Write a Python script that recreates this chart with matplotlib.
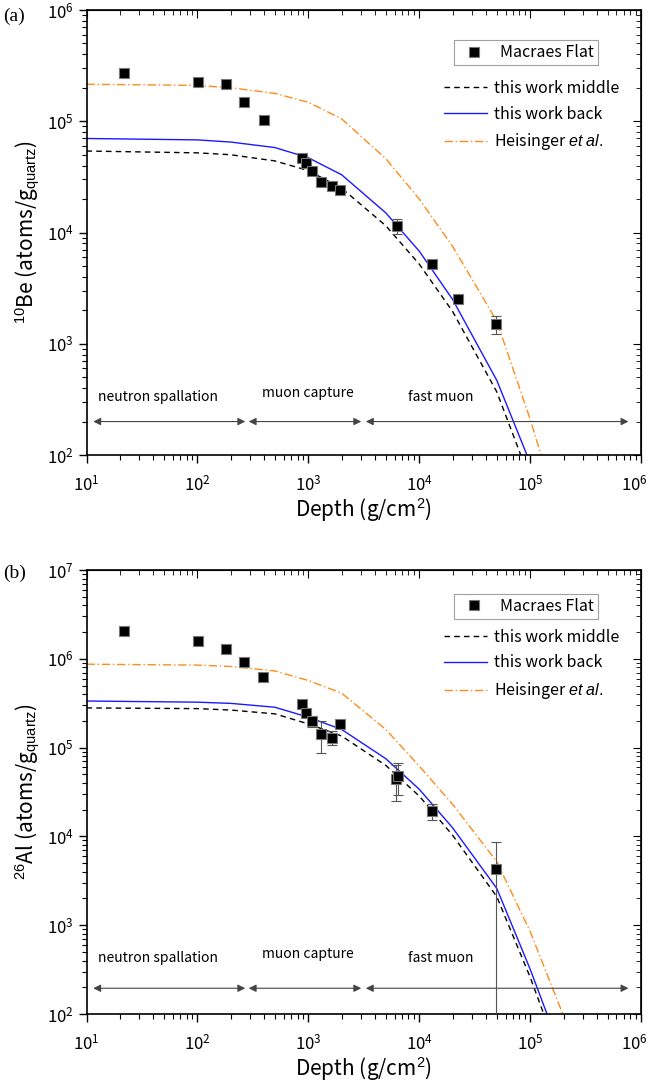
import numpy as np
import matplotlib
matplotlib.use("Agg")
import matplotlib.pyplot as plt
from matplotlib.lines import Line2D
import matplotlib.transforms as mtransforms

plt.rcParams['font.family'] = ['Noto Sans CJK JP', 'DejaVu Sans']
plt.rcParams['mathtext.fontset'] = 'custom'
plt.rcParams['mathtext.rm'] = 'Liberation Sans'
plt.rcParams['mathtext.it'] = 'Liberation Sans:italic'
plt.rcParams['mathtext.bf'] = 'Liberation Sans:bold'

# measured data, Macraes Flat
be_depth = [22, 102, 182, 265, 400, 883, 960, 1090, 1310, 1645, 1950, 6300, 13100, 22400, 49000]
be_conc = [2.72e5, 2.25e5, 2.16e5, 1.49e5, 1.03e5, 4.7e4, 4.2e4, 3.6e4, 2.85e4, 2.6e4, 2.4e4,
           1.14e4, 5.2e3, 2.5e3, 1.5e3]
be_err = [5e3, 5e3, 5e3, 4e3, 3e3, 1.5e3, 1.5e3, 1e3, 1e3, 1e3, 1e3, 1.7e3, 2e2, 1e2, 2.8e2]

al_depth = [22, 102, 182, 265, 390, 880, 960, 1090, 1310, 1645, 1950, 6200, 6500, 13100, 49000]
al_conc = [2.05e6, 1.6e6, 1.29e6, 9.2e5, 6.3e5, 3.1e5, 2.45e5, 2.0e5, 1.42e5, 1.3e5, 1.85e5,
           4.4e4, 4.8e4, 1.93e4, 4.3e3]
al_err = [3e4, 3e4, 2e4, 2e4, 1e4, 1e4, 1e4, 3e4, 5.5e4, 2.4e4, 5e3, 1.9e4, 1.9e4, 4e3, 4.3e3]

# model curves
model_depth = [10, 100, 200, 500, 1000, 2000, 5000, 10000, 20000, 50000, 100000, 200000]
be_middle = [5.4e4, 5.2e4, 5.0e4, 4.4e4, 3.6e4, 2.5e4, 1.15e4, 5.2e3, 1.95e3, 3.7e2, 6.0e1, 7]
be_back = [7.0e4, 6.8e4, 6.5e4, 5.8e4, 4.7e4, 3.3e4, 1.5e4, 6.8e3, 2.5e3, 4.7e2, 8.5e1, 9]
be_heis = [2.15e5, 2.1e5, 2.0e5, 1.78e5, 1.48e5, 1.05e5, 4.6e4, 2.0e4, 7.5e3, 1.6e3, 2.1e2, 2.2e1]

al_middle = [2.8e5, 2.75e5, 2.65e5, 2.4e5, 1.85e5, 1.35e5, 6.3e4, 2.85e4, 1.03e4, 2.1e3, 2.6e2, 2.5e1]
al_back = [3.35e5, 3.25e5, 3.15e5, 2.85e5, 2.2e5, 1.6e5, 7.5e4, 3.4e4, 1.25e4, 2.6e3, 3.2e2, 3.2e1]
al_heis = [8.7e5, 8.5e5, 8.2e5, 7.3e5, 5.7e5, 4.1e5, 1.6e5, 6.2e4, 2.3e4, 5.2e3, 8.5e2, 9.5e1]

# production zones
zone_names = ['neutron spallation', 'muon capture', 'fast muon']
zone_start = [11.5, 290, 3300]
zone_end = [270, 3000, 7.7e5]
zone_text_x = [12.7, 380, 7900]

fig = plt.figure(figsize=(6.52, 10.86), dpi=100)
ax1 = fig.add_axes([0.1327, 0.581, 0.8505, 0.4098])
ax2 = fig.add_axes([0.1327, 0.0663, 0.8505, 0.4088])


def draw(ax, depth, conc, err, middle, back, heis, ylim, ylabel, arrow_y, text_y, leg1_y, leg2_y):
    ax.set_xscale('log')
    ax.set_yscale('log')
    l1, = ax.plot(model_depth, middle, ls=(0, (4, 3)), color='black', lw=1)
    l2, = ax.plot(model_depth, back, ls='-', color='#1a1aff', lw=1)
    l3, = ax.plot(model_depth, heis, ls=(0, (6, 2, 1, 2)), color='#ff8c1a', lw=1)
    ax.errorbar(depth, conc, yerr=err, fmt='s', color='black', ms=7.5, mec='#777777',
                mew=0.8, ecolor='#555555', elinewidth=0.8, capsize=3.5, capthick=0.8, zorder=5)
    for name, x0, x1, tx, ty in zip(zone_names, zone_start, zone_end, zone_text_x, text_y):
        ax.annotate('', xy=(x1, arrow_y), xytext=(x0, arrow_y),
                    arrowprops=dict(arrowstyle='<|-|>', color='#444444', lw=0.8,
                                    mutation_scale=11, shrinkA=0, shrinkB=0))
        ax.text(tx, ty, name, fontsize=10, va='center', ha='left')
    ax.set_xlim(10, 1e6)
    ax.set_ylim(*ylim)
    ax.set_xlabel('Depth (g/cm$^{2}$)', fontsize=15, labelpad=1)
    ax.set_ylabel(ylabel, fontsize=15, labelpad=3)
    ax.tick_params(which='both', direction='out', top=False, right=False, labelsize=12)
    ax.tick_params(which='major', length=6, width=1)
    ax.tick_params(which='minor', length=3.5, width=0.8)
    ax.tick_params(axis='x', pad=8)
    for s in ax.spines.values():
        s.set_linewidth(1.2)
    sec = ax.secondary_xaxis('top')
    sec.tick_params(which='both', direction='in', labeltop=False)
    sec.tick_params(which='major', length=6)
    sec.tick_params(which='minor', length=3.5)
    secy = ax.secondary_yaxis('right')
    secy.tick_params(which='both', direction='in', labelright=False)
    secy.tick_params(which='major', length=6)
    secy.tick_params(which='minor', length=3.5)

    mark = Line2D([], [], ls='none', marker='s', color='black', ms=7.5, mec='#777777', mew=0.8)
    leg1 = ax.legend([mark], ['Macraes Flat'], loc='upper left', bbox_to_anchor=(0.663, leg1_y),
                     frameon=True, fancybox=False, edgecolor='#888888', fontsize=11.5,
                     handlelength=2.0, handletextpad=0.6, borderpad=0.25, borderaxespad=0)
    leg1.get_frame().set_linewidth(0.8)
    ax.add_artist(leg1)
    ax.legend([l1, l2, l3], ['this work middle', 'this work back', r'Heisinger $\it{et\ al.}$'],
              loc='upper left', bbox_to_anchor=(0.645, leg2_y), frameon=False,
              fontsize=11.5, handlelength=2.7, handletextpad=0.4, labelspacing=0.55,
              borderaxespad=0, borderpad=0)

    # keep the last x tick label inside the figure
    fig.canvas.draw()
    labels = ax.get_xticklabels()
    for lab in labels:
        if '6' in lab.get_text() and lab.get_position()[0] >= 1e6:
            lab.set_transform(lab.get_transform() +
                              mtransforms.ScaledTranslation(-5 / 72, 0, fig.dpi_scale_trans))


draw(ax1, be_depth, be_conc, be_err, be_middle, be_back, be_heis, (1e2, 1e6),
     r'$^{10}$Be (atoms/g$_{\mathrm{quartz}}$)', 200, [330, 360, 330], 0.932, 0.843)
draw(ax2, al_depth, al_conc, al_err, al_middle, al_back, al_heis, (1e2, 1e7),
     r'$^{26}$Al (atoms/g$_{\mathrm{quartz}}$)', 195, [430, 480, 430], 0.946, 0.868)

fig.text(0.005, 0.985, '(a)', family='Liberation Serif', fontsize=14, va='center')
fig.text(0.005, 0.4725, '(b)', family='Liberation Serif', fontsize=14, va='center')

fig.savefig('out.png', dpi=100)
